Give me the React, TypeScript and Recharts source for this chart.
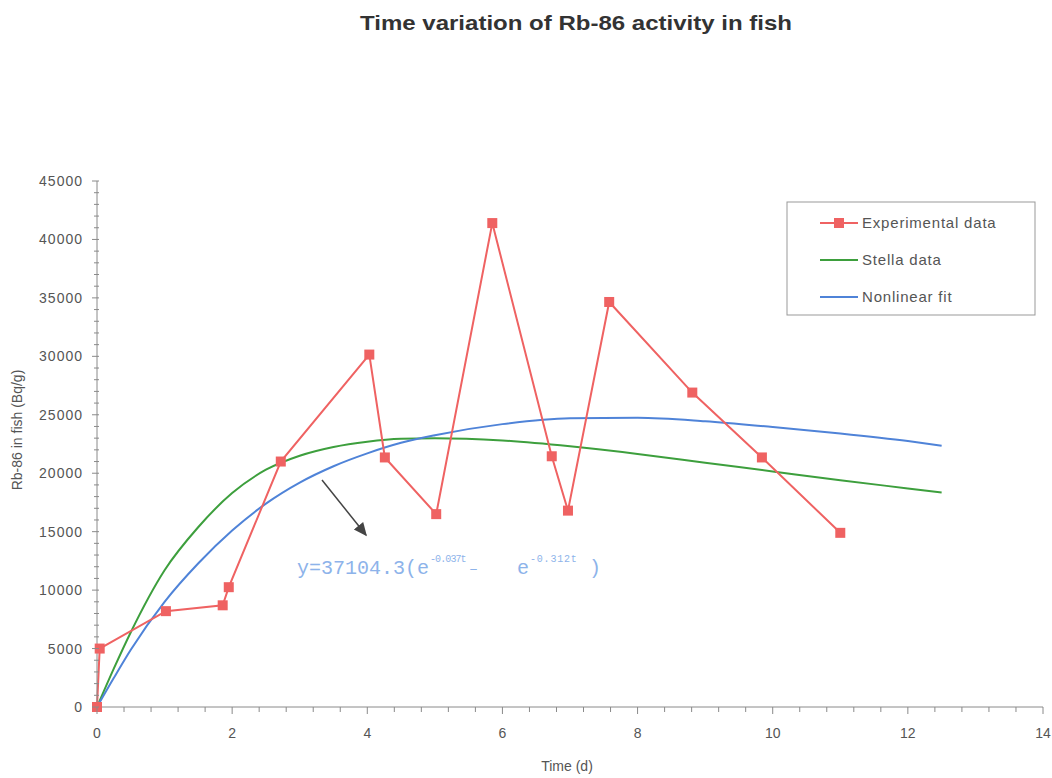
import { LineChart, Line, XAxis, YAxis } from "recharts";

// experimental measurements (time in days, activity in Bq/g)
const expTime = [0, 0.04, 1.02, 1.86, 1.95, 2.72, 4.03, 4.26, 5.02, 5.85, 6.73, 6.97, 7.58, 8.81, 9.84, 11.0];
const expActivity = [0, 5000, 8200, 8700, 10250, 21000, 30150, 21350, 16500, 41400, 21450, 16800, 34650, 26900, 21350, 14900];

// model curves
const curveTime = [0, 0.25, 0.5, 1, 1.5, 2, 2.5, 3, 3.5, 4, 4.5, 5, 6, 7, 8, 9, 10, 11, 12, 12.5];
const stellaActivity = [0, 3300, 6400, 11700, 15400, 18300, 20300, 21500, 22250, 22700, 22950, 23000, 22800, 22300, 21650, 20900, 20150, 19400, 18700, 18350];
const fitActivity = [0, 2500, 4900, 9000, 12300, 15100, 17400, 19200, 20600, 21700, 22600, 23250, 24200, 24700, 24750, 24450, 23950, 23400, 22750, 22350];

const xTickLabels = [0, 2, 4, 6, 8, 10, 12, 14];
const yTickLabels = [0, 5000, 10000, 15000, 20000, 25000, 30000, 35000, 40000, 45000];

const expData = expTime.map((t, i) => ({ t, v: expActivity[i] }));
const stellaData = curveTime.map((t, i) => ({ t, v: stellaActivity[i] }));
const fitData = curveTime.map((t, i) => ({ t, v: fitActivity[i] }));

// each labelled interval split into five by minor ticks
const xTicks = Array.from({ length: 36 }, (_, i) => Math.round(i * 4) / 10);
const yTicks = Array.from({ length: 46 }, (_, i) => i * 1000);

const RED = "#ef6262";
const GREEN = "#3d9f3d";
const BLUE = "#4f83d8";
const AXIS = "#8a8a8a";
const FONT = "'Liberation Sans', Arial, sans-serif";

const XTick = (props: any) => {
  const { x, y, payload } = props;
  const major = xTickLabels.includes(payload.value);
  return (
    <g>
      <line x1={x} x2={x} y1={y - 2} y2={y + (major ? 5 : 3)} stroke={AXIS} />
      {major && (
        <text x={x} y={y + 29} textAnchor="middle" fontSize={14} fill="#555" fontFamily={FONT}>
          {payload.value}
        </text>
      )}
    </g>
  );
};

const YTick = (props: any) => {
  const { x, y, payload } = props;
  const major = yTickLabels.includes(payload.value);
  return (
    <g>
      <line x1={x - (major ? 5 : 3)} x2={x + 2} y1={y} y2={y} stroke={AXIS} />
      {major && (
        <text x={x - 14} y={y + 5} textAnchor="end" fontSize={14} letterSpacing={1} fill="#555" fontFamily={FONT}>
          {payload.value}
        </text>
      )}
    </g>
  );
};

const SquareDot = (props: any) => {
  const { cx, cy, index } = props;
  if (cx == null || cy == null) return <g key={`sq-${index}`} />;
  return <rect key={`sq-${index}`} x={cx - 5} y={cy - 5} width={10} height={10} fill={RED} />;
};

const legendItems = [
  { name: "Experimental data", color: RED, marker: true },
  { name: "Stella data", color: GREEN, marker: false },
  { name: "Nonlinear fit", color: BLUE, marker: false },
];

export default function App() {
  return (
    <div style={{ position: "absolute", left: 0, top: 0, width: 1052, height: 778, background: "#fff" }}>
      <LineChart
        width={1052}
        height={778}
        margin={{ top: 181, right: 9, bottom: 41, left: 0 }}
      >
        <XAxis
          type="number"
          dataKey="t"
          domain={[0, 14]}
          ticks={xTicks}
          interval={0}
          tick={XTick}
          tickLine={false}
          tickSize={0}
          height={30}
          allowDuplicatedCategory={false}
          axisLine={{ stroke: AXIS }}
        />
        <YAxis
          type="number"
          dataKey="v"
          domain={[0, 45000]}
          ticks={yTicks}
          interval={0}
          tick={YTick}
          tickLine={false}
          tickSize={0}
          tickMargin={0}
          width={97}
          axisLine={{ stroke: AXIS }}
        />
        <Line
          data={stellaData}
          dataKey="v"
          type="monotone"
          stroke={GREEN}
          strokeWidth={2}
          dot={false}
          isAnimationActive={false}
        />
        <Line
          data={fitData}
          dataKey="v"
          type="monotone"
          stroke={BLUE}
          strokeWidth={2}
          dot={false}
          isAnimationActive={false}
        />
        <Line
          data={expData}
          dataKey="v"
          type="linear"
          stroke={RED}
          strokeWidth={2}
          dot={SquareDot}
          isAnimationActive={false}
        />
      </LineChart>

      <svg
        width={1052}
        height={778}
        style={{ position: "absolute", left: 0, top: 0, pointerEvents: "none" }}
      >
        <defs>
          <marker id="arrowHead" markerWidth="10" markerHeight="10" refX="8" refY="5" orient="auto">
            <path d="M0,1 L9,5 L0,9 Z" fill="#444" />
          </marker>
        </defs>
        <text
          x={360}
          y={30}
          textLength={432}
          lengthAdjust="spacingAndGlyphs"
          fontSize={21}
          fontWeight="bold"
          fill="#333"
          fontFamily={FONT}
        >
          Time variation of Rb-86 activity in fish
        </text>
        <text
          x={22}
          y={430}
          transform="rotate(-90 22 430)"
          textAnchor="middle"
          fontSize={14}
          fill="#555"
          fontFamily={FONT}
        >
          Rb-86 in fish (Bq/g)
        </text>
        <text x={567} y={771} textAnchor="middle" fontSize={14} fill="#555" fontFamily={FONT}>
          Time (d)
        </text>

        <line x1={322} y1={480} x2={366} y2={535} stroke="#444" strokeWidth={1.5} markerEnd="url(#arrowHead)" />

        {/* fitted equation, one text element with raised exponents */}
        <text
          y={574}
          fill="#8db3ea"
          fontSize={20}
          fontFamily="'Liberation Mono', 'DejaVu Sans Mono', monospace"
        >
          <tspan x={297}>y=37104.3(e</tspan>
          <tspan x={430} y={562} fontSize={10} letterSpacing={-0.9}>-0.037t</tspan>
          <tspan x={469} y={573} fontSize={15}>–</tspan>
          <tspan x={517} y={574}>e</tspan>
          <tspan x={530} y={562} fontSize={10} letterSpacing={0.8}>-0.312t</tspan>
          <tspan x={589} y={574}>)</tspan>
        </text>

        <rect x={787} y={202} width={248} height={113} fill="#fff" stroke="#999" />
        {legendItems.map((item, i) => {
          const y = 223 + i * 37;
          return (
            <g key={item.name}>
              <line x1={820} x2={858} y1={y} y2={y} stroke={item.color} strokeWidth={2} />
              {item.marker && <rect x={834} y={y - 5} width={10} height={10} fill={item.color} />}
              <text x={862} y={y + 5} fontSize={15} letterSpacing={0.8} fill="#555" fontFamily={FONT}>
                {item.name}
              </text>
            </g>
          );
        })}
      </svg>
    </div>
  );
}
